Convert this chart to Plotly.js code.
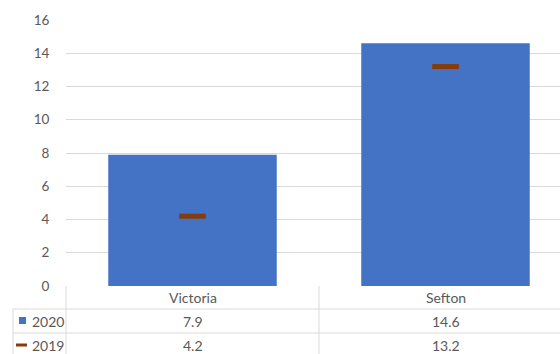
<!DOCTYPE html>
<html>
<head>
<meta charset="utf-8">
<script src="https://cdn.plot.ly/plotly-3.0.1.min.js"></script>
<style>html,body{margin:0;padding:0;overflow:hidden;background:#fff;}#chart{width:560px;height:354px;}</style>
</head>
<body>
<div id="chart"></div>
<script>
// ---- data ----
const categories = ["Victoria", "Sefton"];
const seriesNames = ["2020", "2019"];
const values2020 = [7.9, 14.6];
const values2019 = [4.2, 13.2];
const yTickVals = [0, 2, 4, 6, 8, 10, 12, 14, 16];

// ---- layout geometry ----
const W = 560, H = 354, ML = 66, MR = 0, MT = 20, MB = 68;
const plotW = W - ML - MR, plotH = H - MT - MB;
const catPx = 253;
const px = p => (p - ML) / plotW;          // pixel x -> paper
const py = p => (H - MB - p) / plotH;      // pixel y -> paper
const gridCol = "#D9D9D9", textCol = "#595959";
const fontFam = "Lato, 'Liberation Sans', sans-serif";

const traces = [
  {type: "bar", name: seriesNames[0], x: categories, y: values2020,
   width: 0.666, marker: {color: "#4472C4", line: {width: 0}}, hoverinfo: "skip"},
  {type: "scatter", mode: "markers", name: seriesNames[1], x: categories, y: values2019,
   marker: {symbol: "line-ew", size: 19, color: "#843C0C", line: {color: "#843C0C", width: 5}},
   hoverinfo: "skip"}
];

const shapes = [];
const line = (x0, y0, x1, y1) => shapes.push({type: "line", xref: "paper", yref: "paper",
  x0: px(x0), y0: py(y0), x1: px(x1), y1: py(y1), line: {color: gridCol, width: 1}});
// table borders
line(ML, H - MB, ML, H + 10);
line(ML + catPx, H - MB, ML + catPx, H + 10);
line(13, 309, 13, H + 10);
line(13, 309, W, 309);
line(13, 333, W, 333);
// legend keys
shapes.push({type: "rect", xref: "paper", yref: "paper", x0: px(19), x1: px(26), y0: py(317), y1: py(324),
  fillcolor: "#4472C4", line: {width: 0}});
shapes.push({type: "rect", xref: "paper", yref: "paper", x0: px(16), x1: px(27), y0: py(343.5), y1: py(346.5),
  fillcolor: "#843C0C", line: {width: 0}});

const annotations = [];
const rowY = [297.5, 321, 345];
const tableRows = [categories, values2020.map(v => v.toFixed(1)), values2019.map(v => v.toFixed(1))];
tableRows.forEach((row, r) => row.forEach((t, i) => annotations.push({
  xref: "x", yref: "paper", x: categories[i], y: py(rowY[r]), text: t, showarrow: false,
  xanchor: "center", yanchor: "middle", font: {family: fontFam, size: 14, color: textCol}
})));
seriesNames.forEach((s, i) => annotations.push({
  xref: "paper", yref: "paper", x: px(30), y: py(rowY[i + 1]), text: s, showarrow: false,
  xanchor: "left", yanchor: "middle", font: {family: fontFam, size: 14, color: textCol}
}));

const layout = {
  width: W, height: H,
  margin: {l: ML, r: MR, t: MT, b: MB, pad: 0},
  paper_bgcolor: "#fff", plot_bgcolor: "#fff",
  showlegend: false,
  font: {family: fontFam, size: 13, color: textCol},
  xaxis: {type: "category", range: [-0.5, -0.5 + plotW / catPx], showticklabels: false,
    showgrid: false, zeroline: false, showline: false, ticks: "", fixedrange: true},
  yaxis: {range: [0, 16], tickvals: yTickVals, showgrid: true, gridcolor: gridCol, gridwidth: 1,
    zeroline: false, showline: false, ticks: "outside", ticklen: 13, tickcolor: "rgba(0,0,0,0)",
    tickfont: {family: fontFam, size: 13.5, color: textCol}, fixedrange: true},
  shapes: shapes,
  annotations: annotations
};

Plotly.newPlot("chart", traces, layout, {staticPlot: true, displayModeBar: false});
</script>
</body>
</html>
